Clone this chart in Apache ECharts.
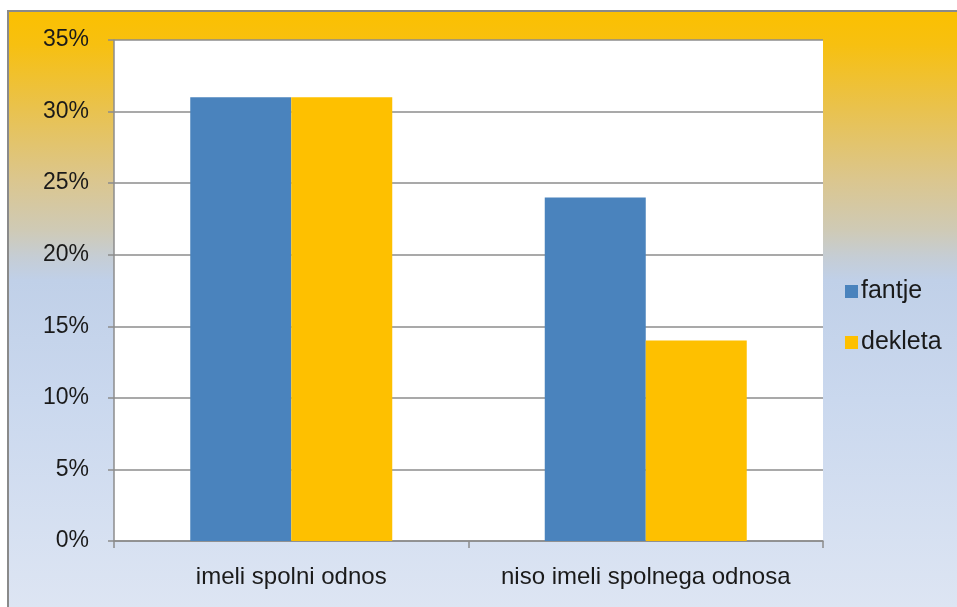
<!DOCTYPE html>
<html>
<head>
<meta charset="utf-8">
<script src="https://cdn.jsdelivr.net/npm/echarts@6/dist/echarts.min.js"></script>
<style>
  html, body { margin: 0; padding: 0; background: #ffffff; }
  #chart { width: 957px; height: 607px; }
</style>
</head>
<body>
<div id="chart"></div>
<script>
// Share of respondents, by group and gender
const categories = ['imeli spolni odnos', 'niso imeli spolnega odnosa'];
const fantje = [31, 24];
const dekleta = [31, 14];
const yTicks = { min: 0, max: 35, interval: 5 };

const chart = echarts.init(document.getElementById('chart'), null, { renderer: 'canvas' });

const labelFont = "'Liberation Sans', 'DejaVu Sans', sans-serif";

chart.setOption({
  animation: false,
  backgroundColor: '#ffffff',
  graphic: {
    elements: [{
      type: 'rect',
      z: -10,
      silent: true,
      shape: { x: 8, y: 11, width: 970, height: 620 },
      style: {
        fill: new echarts.graphic.LinearGradient(0, 0, 0, 1, [
          { offset: 0.000, color: '#fbc000' },
          { offset: 0.055, color: '#f7c010' },
          { offset: 0.160, color: '#e9c24e' },
          { offset: 0.273, color: '#dbc68e' },
          { offset: 0.353, color: '#cfcab5' },
          { offset: 0.398, color: '#c5cdd5' },
          { offset: 0.434, color: '#c0d0e8' },
          { offset: 0.627, color: '#cad8ee' },
          { offset: 0.961, color: '#dde5f3' },
          { offset: 1.000, color: '#dfe6f3' }
        ]),
        stroke: '#8a8a8a',
        lineWidth: 2
      }
    }]
  },
  grid: {
    left: 114,
    right: 134,
    top: 40,
    bottom: 66,
    show: true,
    backgroundColor: '#ffffff',
    borderWidth: 0,
    containLabel: false
  },
  legend: {
    orient: 'vertical',
    left: 840,
    top: 274,
    itemWidth: 13,
    itemHeight: 13,
    itemGap: 26,
    icon: 'rect',
    textStyle: { fontFamily: labelFont, fontSize: 25, color: '#1a1a1a', padding: [0, 0, 0, -2] },
    data: ['fantje', 'dekleta']
  },
  xAxis: {
    type: 'category',
    data: categories,
    axisLine: { lineStyle: { color: '#8c8c8c', width: 1.5 } },
    axisTick: { show: true, interval: 0, length: 7, lineStyle: { color: '#8c8c8c', width: 1.5 } },
    axisLabel: { interval: 0, hideOverlap: false, fontFamily: labelFont, fontSize: 24, color: '#1a1a1a', margin: 24 }
  },
  yAxis: {
    type: 'value',
    min: yTicks.min,
    max: yTicks.max,
    interval: yTicks.interval,
    axisLine: { show: true, lineStyle: { color: '#8c8c8c', width: 1.5 } },
    axisTick: { show: true, length: 6, lineStyle: { color: '#8c8c8c', width: 1.5 } },
    splitLine: { show: true, lineStyle: { color: '#8c8c8c', width: 1.5 } },
    axisLabel: {
      fontFamily: labelFont, fontSize: 23, color: '#1a1a1a', margin: 25,
      formatter: v => v + '%'
    }
  },
  series: [
    {
      name: 'fantje',
      type: 'bar',
      data: fantje,
      barWidth: 101,
      barGap: '0%',
      itemStyle: { color: '#4a83bd' }
    },
    {
      name: 'dekleta',
      type: 'bar',
      data: dekleta,
      barWidth: 101,
      barGap: '0%',
      itemStyle: { color: '#fec000' }
    }
  ]
});
</script>
</body>
</html>
